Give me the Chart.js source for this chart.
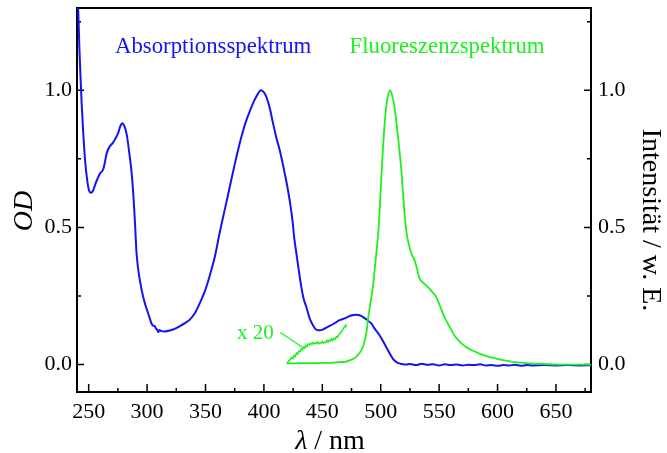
<!DOCTYPE html>
<html>
<head>
<meta charset="utf-8">
<script src="https://cdn.jsdelivr.net/npm/chart.js@4.4.1/dist/chart.umd.min.js"></script>
<style>
  html, body { margin: 0; padding: 0; background: #fff; }
</style>
</head>
<body>
<canvas id="spektrum" width="667" height="453"></canvas>
<script>
// --- Absorptionsspektrum (linke Achse, OD) ---
const absWl = [240, 241, 242, 243, 244, 245.4, 247, 248.8, 250.3, 251.7, 253.5, 255.5, 257, 259.7, 262.5, 264, 265.4,
  268, 271, 273, 275.3, 277, 278.7, 280.5, 282.5, 284.5, 286.8, 288.5, 289.6, 291, 293.8, 297.3, 301, 304.7, 306.5,
  307.5, 308.5, 309.5, 310.5, 312.4, 315, 319.5, 324, 328, 332, 336.6, 341, 345, 349, 352, 355, 358, 362, 364.5, 367,
  370.8, 375, 379.3, 382, 385, 388.5, 392, 395, 397.3, 399.5, 402, 405, 407.8, 410.5, 413.5, 416, 417.8, 420, 422,
  424.4, 426, 427.8, 430, 432, 434, 436.3, 439, 442, 444, 446.2, 448, 450.5, 455, 459, 462, 464.8, 467.6, 471, 474,
  476.2, 479, 482, 484.7, 488, 491.9, 495, 499, 502, 504.7, 507.5, 510.3, 512.5, 514.6, 518, 521.8, 525, 530, 535,
  540, 545, 550, 555, 560, 565, 570, 575, 580, 585, 590, 595, 600, 605, 610, 615, 620, 625, 630, 640, 650, 660, 670, 680];
const absOd = [1.40, 1.30, 1.16, 1.05, 0.95, 0.84, 0.74, 0.67, 0.635, 0.626, 0.632, 0.655, 0.672, 0.697, 0.712, 0.74, 0.77,
  0.795, 0.81, 0.825, 0.845, 0.868, 0.88, 0.87, 0.84, 0.78, 0.697, 0.60, 0.52, 0.405, 0.308, 0.235, 0.186, 0.143, 0.14,
  0.132, 0.128, 0.118, 0.126, 0.122, 0.121, 0.124, 0.131, 0.14, 0.15, 0.164, 0.188, 0.223, 0.262, 0.30, 0.345, 0.393, 0.478, 0.527, 0.575,
  0.648, 0.73, 0.807, 0.85, 0.891, 0.93, 0.965, 0.988, 1.0, 0.995, 0.977, 0.935, 0.88, 0.83, 0.782, 0.735, 0.697, 0.65, 0.60,
  0.527, 0.46, 0.405, 0.34, 0.283, 0.24, 0.21, 0.17, 0.143, 0.13, 0.125, 0.125, 0.128, 0.138, 0.147, 0.155, 0.162, 0.166, 0.172, 0.178,
  0.18, 0.182, 0.18, 0.174, 0.164, 0.15, 0.13, 0.107, 0.085, 0.064, 0.042, 0.022, 0.012, 0.006, 0.002, 0.0, 0.002, -0.002, 0.003,
  -0.001, 0.001, -0.003, 0.001, -0.002, 0.0, -0.003, -0.001, -0.002, 0.001, -0.003, -0.002, -0.004, -0.002, -0.003, -0.001, -0.004, -0.002, -0.003, -0.002, -0.003, -0.002, -0.003, -0.002];

// --- Fluoreszenzspektrum (rechte Achse) ---
const fluWl = [419.5, 425, 430, 440, 450, 456, 462, 466, 470.5, 474, 477, 479, 481.5, 484.7, 486.5, 488, 489, 491, 493.3,
  494.8, 496.2, 498.4, 500, 501.8, 503, 504.7, 506.2, 508, 509.5, 511.8, 514, 516, 518, 519.5, 521, 522.3, 524.6, 526.5,
  528.9, 531, 533.2, 536.5, 540.3, 544, 547.4, 551, 554.5, 558, 563, 568, 573, 578, 584.4, 591, 598.7, 606, 612.9, 620,
  627, 640, 655, 668, 680];
const fluInt = [0.004, 0.004, 0.005, 0.005, 0.006, 0.006, 0.008, 0.009, 0.011, 0.016, 0.022, 0.028, 0.04, 0.064, 0.09, 0.125, 0.162, 0.22, 0.283,
  0.345, 0.405, 0.51, 0.64, 0.782, 0.86, 0.94, 0.98, 1.0, 0.985, 0.94, 0.86, 0.782, 0.69, 0.60, 0.52, 0.475, 0.429, 0.402,
  0.381, 0.35, 0.314, 0.298, 0.283, 0.265, 0.247, 0.21, 0.174, 0.145, 0.107, 0.082, 0.064, 0.052, 0.04, 0.03, 0.022, 0.015, 0.01, 0.007,
  0.004, 0.002, 0.0, 0.0, 0.0];

// --- Ausschnitt x 20 ---
const x20Wl = [419.5, 421, 422.5, 424, 425, 426, 427, 428, 429, 430, 431, 432, 433, 434, 435, 436, 437, 438, 439, 440, 441, 442,
  443, 444, 445, 446, 447, 448, 449, 450, 451, 452, 453, 454, 455, 456, 457, 458, 459, 460, 461, 462, 463, 464, 465, 466,
  467, 468, 469, 470, 470.5];
const x20Int = [0.005, 0.012, 0.018, 0.026, 0.022, 0.034, 0.03, 0.042, 0.038, 0.05, 0.047, 0.058, 0.054, 0.064, 0.06, 0.07, 0.066, 0.075, 0.071, 0.078, 0.074, 0.08,
  0.075, 0.079, 0.077, 0.083, 0.076, 0.08, 0.078, 0.084, 0.078, 0.082, 0.08, 0.088, 0.082, 0.09, 0.086, 0.094, 0.088, 0.096, 0.093, 0.102, 0.099, 0.108, 0.112, 0.118,
  0.124, 0.13, 0.138, 0.143, 0.135];

// --- Achsen ---
const xRange = [240, 680];
const yRange = [-0.1, 1.3];
const xStep = 25, xLabelStep = 50;
const yStep = 0.25, yLabelStep = 0.5;

const BLUE = '#1414f0';
const GREEN = '#1ef01e';
const serif = "'Times New Roman', 'Liberation Serif', serif";

const pts = (xs, ys) => xs.map((v, i) => ({ x: v, y: ys[i] }));
const isMajor = (v, step) => Math.abs(v / step - Math.round(v / step)) < 1e-6;

// Rahmen + nach innen zeigende Ticks, Beschriftungen
const frame = {
  id: 'frame',
  beforeDatasetsDraw(chart) {
    const { ctx, chartArea: a, scales } = chart;
    ctx.save();
    ctx.strokeStyle = '#000';
    ctx.lineWidth = 2;
    ctx.strokeRect(a.left, a.top, a.right - a.left, a.bottom - a.top);
    ctx.lineWidth = 1.5;
    ctx.beginPath();
    scales.x.ticks.forEach(t => {
      const px = scales.x.getPixelForValue(t.value);
      const len = isMajor(t.value, xLabelStep) ? 8 : 4;
      ctx.moveTo(px, a.bottom); ctx.lineTo(px, a.bottom - len);
    });
    scales.y.ticks.forEach(t => {
      const py = scales.y.getPixelForValue(t.value);
      const len = isMajor(t.value, yLabelStep) ? 7 : 4;
      ctx.moveTo(a.left, py); ctx.lineTo(a.left + len, py);
    });
    scales.y2.ticks.forEach(t => {
      const py = scales.y2.getPixelForValue(t.value);
      const len = isMajor(t.value, yLabelStep) ? 7 : 4;
      ctx.moveTo(a.right, py); ctx.lineTo(a.right - len, py);
    });
    ctx.stroke();
    ctx.restore();
  },
  afterDraw(chart) {
    const { ctx, scales } = chart;
    const x = scales.x, y = scales.y;
    ctx.save();
    ctx.font = '22.8px ' + serif;
    ctx.textBaseline = 'alphabetic';
    ctx.textAlign = 'left';
    ctx.fillStyle = BLUE;
    ctx.fillText('Absorptionsspektrum', x.getPixelForValue(272.5), y.getPixelForValue(1.137));
    ctx.fillStyle = GREEN;
    ctx.fillText('Fluoreszenzspektrum', x.getPixelForValue(473.3), y.getPixelForValue(1.137));
    ctx.font = '21px ' + serif;
    ctx.fillText('x 20', x.getPixelForValue(377), y.getPixelForValue(0.095));
    ctx.strokeStyle = GREEN;
    ctx.lineWidth = 1.2;
    ctx.beginPath();
    ctx.moveTo(x.getPixelForValue(414.1), y.getPixelForValue(0.117));
    ctx.lineTo(x.getPixelForValue(432.9), y.getPixelForValue(0.063));
    ctx.stroke();

    // Achsentitel
    ctx.fillStyle = '#000';
    const lam = 'λ', rest = ' / nm';
    ctx.font = 'italic 28px ' + serif;
    const wl = ctx.measureText(lam).width;
    ctx.font = '28px ' + serif;
    const wr = ctx.measureText(rest).width;
    const cx = 330, by = 449;
    ctx.font = 'italic 28px ' + serif;
    ctx.fillText(lam, cx - (wl + wr) / 2, by);
    ctx.font = '28px ' + serif;
    ctx.fillText(rest, cx - (wl + wr) / 2 + wl, by);

    ctx.textAlign = 'center';
    ctx.save();
    ctx.translate(31.5, 211);
    ctx.rotate(-Math.PI / 2);
    ctx.font = 'italic 28px ' + serif;
    ctx.fillText('OD', 0, 0);
    ctx.restore();

    ctx.save();
    ctx.translate(643, 220);
    ctx.rotate(Math.PI / 2);
    ctx.font = '28px ' + serif;
    ctx.fillText('Intensität / w. E.', 0, 0);
    ctx.restore();
    ctx.restore();
  }
};

const noPad = s => { s.paddingTop = 0; s.paddingBottom = 0; s.paddingLeft = 0; s.paddingRight = 0; };

const tickFont = { family: serif, size: 22 };
const yTicks = {
  stepSize: yStep,
  includeBounds: false,
  color: '#000',
  font: tickFont,
  callback: v => isMajor(v, yLabelStep) ? v.toFixed(1) : ''
};

new Chart(document.getElementById('spektrum'), {
  type: 'scatter',
  data: {
    datasets: [
      { label: 'Absorption', data: pts(absWl, absOd), yAxisID: 'y', showLine: true,
        borderColor: BLUE, borderWidth: 2, pointRadius: 0, cubicInterpolationMode: 'monotone', order: 2 },
      { label: 'Fluoreszenz', data: pts(fluWl, fluInt), yAxisID: 'y2', showLine: true,
        borderColor: GREEN, borderWidth: 1.8, pointRadius: 0, cubicInterpolationMode: 'monotone', order: 1 },
      { label: 'x 20', data: pts(x20Wl, x20Int), yAxisID: 'y2', showLine: true,
        borderColor: GREEN, borderWidth: 1.5, pointRadius: 0, tension: 0, order: 1 }
    ]
  },
  options: {
    responsive: false,
    animation: false,
    layout: { padding: { top: 8, left: 0, right: 0, bottom: 0 } },
    plugins: { legend: { display: false }, tooltip: { enabled: false } },
    scales: {
      x: {
        type: 'linear', position: 'bottom', min: xRange[0], max: xRange[1],
        grid: { display: false, drawTicks: false },
        border: { display: false },
        ticks: {
          stepSize: xStep, includeBounds: false, color: '#000', font: tickFont, padding: 7, maxRotation: 0,
          autoSkip: false,
          callback: v => isMajor(v, xLabelStep) ? String(v) : ''
        },
        afterFit: s => { s.height = 61; noPad(s); }
      },
      y: {
        position: 'left', min: yRange[0], max: yRange[1],
        grid: { display: false, drawTicks: false },
        border: { display: false },
        ticks: Object.assign({ padding: 5 }, yTicks),
        afterFit: s => { s.width = 77; noPad(s); }
      },
      y2: {
        position: 'right', min: yRange[0], max: yRange[1],
        grid: { display: false, drawTicks: false },
        border: { display: false },
        ticks: Object.assign({ padding: 7 }, yTicks),
        afterFit: s => { s.width = 76; noPad(s); }
      }
    }
  },
  plugins: [frame]
});
</script>
</body>
</html>
